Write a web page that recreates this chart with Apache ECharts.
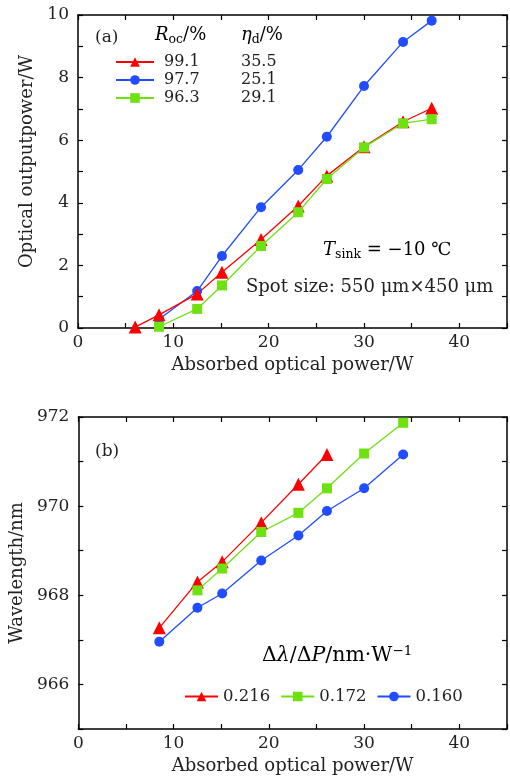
<!DOCTYPE html>
<html><head><meta charset="utf-8">
<script src="https://cdn.jsdelivr.net/npm/echarts@6/dist/echarts.min.js"></script>
<style>html,body{margin:0;padding:0;background:#fff}#c{width:510px;height:780px}</style>
</head><body><div id="c"></div>
<script>
// ---- data (a) ----
const aRedX = [6, 8.5, 12.5, 15.1, 19.2, 23.1, 26.1, 30, 34.1, 37.1];
const aRedY = [0.03, 0.42, 1.09, 1.78, 2.83, 3.90, 4.86, 5.79, 6.59, 7.02];
const aBlueX = [8.5, 12.5, 15.1, 19.2, 23.1, 26.1, 30, 34.1, 37.1];
const aBlueY = [0.28, 1.18, 2.30, 3.86, 5.05, 6.11, 7.73, 9.14, 9.82];
const aGreenX = [8.5, 12.5, 15.1, 19.2, 23.1, 26.1, 30, 34.1, 37.1];
const aGreenY = [0.04, 0.61, 1.36, 2.62, 3.70, 4.76, 5.77, 6.54, 6.67];
const aRoc = ['99.1', '97.7', '96.3'];
const aEta = ['35.5', '25.1', '29.1'];
// ---- data (b) ----
const bRedX = [8.5, 12.5, 15.1, 19.2, 23.1, 26.1];
const bRedY = [967.27, 968.30, 968.75, 969.63, 970.49, 971.16];
const bGreenX = [12.5, 15.1, 19.2, 23.1, 26.1, 30, 34.1];
const bGreenY = [968.11, 968.60, 969.42, 969.85, 970.40, 971.18, 971.87];
const bBlueX = [8.5, 12.5, 15.1, 19.2, 23.1, 26.1, 30, 34.1];
const bBlueY = [966.96, 967.72, 968.04, 968.78, 969.34, 969.89, 970.40, 971.16];
const bSlopes = ['0.216', '0.172', '0.160'];
// ---- tick labels ----
const xTickLabels = [0, 10, 20, 30, 40];
const aYTickLabels = [0, 2, 4, 6, 8, 10];
const bYTickLabels = [966, 968, 970, 972];

const RED = '#ff0000', BLUE = '#1f4dff', GREEN = '#6fe010';
const FONT = 'DejaVu Serif';
const pairs = (xs, ys) => xs.map((x, i) => [x, ys[i]]);

function xAxis(grid, name, pos) {
  const main = pos === 'bottom';
  return {
    type: 'value', gridIndex: grid, position: pos, min: 0, max: 45, interval: 5,
    name: main ? name : '', nameLocation: 'middle', nameGap: 28,
    nameTextStyle: { fontFamily: FONT, fontSize: 18, color: '#222' },
    axisLine: { show: true, onZero: false, lineStyle: { color: '#000', width: 1.5 } },
    axisTick: { show: true, inside: true, length: 5, lineStyle: { color: '#000', width: 1.2 } },
    axisLabel: { show: main, margin: 6, fontFamily: FONT, fontSize: 17, color: '#222',
      formatter: v => xTickLabels.includes(v) ? String(v) : '' },
    splitLine: { show: false }
  };
}
function yAxis(grid, name, pos, min, max, labels, shift) {
  const main = pos === 'left';
  return {
    type: 'value', gridIndex: grid, position: pos, min: min, max: max, interval: 1,
    name: main ? name : '', nameLocation: 'middle', nameGap: 36,
    nameTextStyle: { fontFamily: FONT, fontSize: 18, color: '#222', padding: [0, 0, 0, shift || 0] },
    axisLine: { show: true, onZero: false, lineStyle: { color: '#000', width: 1.5 } },
    axisTick: { show: true, inside: true, length: 5, lineStyle: { color: '#000', width: 1.2 } },
    axisLabel: { show: main, margin: 9, fontFamily: FONT, fontSize: 17, color: '#222',
      formatter: v => labels.includes(v) ? String(v) : '' },
    splitLine: { show: false }
  };
}
function line(name, xi, yi, data, color, symbol, size, z) {
  return { name: name, type: 'line', xAxisIndex: xi, yAxisIndex: yi, data: data,
    symbol: symbol, symbolSize: size, showSymbol: true, z: z || 2,
    lineStyle: { color: color, width: 1.3 }, itemStyle: { color: color }, animation: false };
}
const sub = { fontFamily: FONT, fontSize: 12.5, color: '#222', verticalAlign: 'bottom', padding: [9, 0, 0, 0] };
const norm = { fontFamily: FONT, fontSize: 18, color: '#222' };
const ital = { fontFamily: FONT, fontSize: 18, fontStyle: 'italic', color: '#222' };

const chart = echarts.init(document.getElementById('c'));
chart.setOption({
  animation: false,
  grid: [
    { left: 78, top: 15, width: 430, height: 313, show: false },
    { left: 78, top: 417, width: 430, height: 312, show: false }
  ],
  xAxis: [
    xAxis(0, 'Absorbed optical power/W', 'bottom'), xAxis(0, '', 'top'),
    xAxis(1, 'Absorbed optical power/W', 'bottom'), xAxis(1, '', 'top')
  ],
  yAxis: [
    yAxis(0, 'Optical outputpower/W', 'left', 0, 10, aYTickLabels, 20), yAxis(0, '', 'right', 0, 10, aYTickLabels),
    yAxis(1, 'Wavelength/nm', 'left', 965, 972, bYTickLabels), yAxis(1, '', 'right', 965, 972, bYTickLabels)
  ],
  legend: [
    { orient: 'vertical', left: 110, top: 49, itemGap: 2, itemWidth: 38, itemHeight: 12,
      data: ['a99', 'a97', 'a96'],
      formatter: n => { const i = ['a99', 'a97', 'a96'].indexOf(n); return '{r|' + aRoc[i] + '}{e|' + aEta[i] + '}'; },
      textStyle: { rich: { r: { fontFamily: FONT, fontSize: 16, color: '#222', width: 77, padding: [0, 0, 0, 5] }, e: { fontFamily: FONT, fontSize: 16, color: '#222' } } } },
    { orient: 'horizontal', left: 179, top: 683, itemGap: 10, itemWidth: 33, itemHeight: 12,
      data: ['b216', 'b172', 'b160'],
      formatter: n => bSlopes[['b216', 'b172', 'b160'].indexOf(n)],
      textStyle: { fontFamily: FONT, fontSize: 16.5, color: '#222' } }
  ],
  series: [
    line('a97', 0, 0, pairs(aBlueX, aBlueY), BLUE, 'circle', 10),
    line('a99', 0, 0, pairs(aRedX, aRedY), RED, 'triangle', 13),
    line('a96', 0, 0, pairs(aGreenX, aGreenY), GREEN, 'rect', 10, 3),
    line('b216', 2, 2, pairs(bRedX, bRedY), RED, 'triangle', 13),
    line('b172', 2, 2, pairs(bGreenX, bGreenY), GREEN, 'rect', 10),
    line('b160', 2, 2, pairs(bBlueX, bBlueY), BLUE, 'circle', 10)
  ],
  graphic: [
    { type: 'text', left: 95, top: 29, style: { text: '(a)', font: '17px ' + FONT, fill: '#222' } },
    { type: 'text', left: 155, top: 26, style: { text: '{i|R}{s|oc}{n|/%}', rich: { i: ital, s: sub, n: norm } } },
    { type: 'text', left: 241, top: 26, style: { text: '{i|η}{s|d}{n|/%}', rich: { i: ital, s: sub, n: norm } } },
    { type: 'text', left: 323, top: 241, style: { text: '{i|T}{s|sink}{n| = −10 ℃}', rich: { i: ital, s: sub, n: norm } } },
    { type: 'text', left: 246, top: 278, style: { text: 'Spot size: 550 μm×450 μm', font: '18px ' + FONT, fill: '#222' } },
    { type: 'text', left: 95, top: 443, style: { text: '(b)', font: '17px ' + FONT, fill: '#222' } },
    { type: 'text', left: 262, top: 644, style: { text: '{n|Δ}{i|λ}{n|/Δ}{i|P}{n|/nm·W}{p|−1}', rich: {
      i: { fontFamily: FONT, fontSize: 20.5, fontStyle: 'italic', color: '#222' },
      n: { fontFamily: FONT, fontSize: 20.5, color: '#222' },
      p: { fontFamily: FONT, fontSize: 13.5, color: '#222', verticalAlign: 'top', padding: [0, 0, 10, 0] } } } }
  ]
});
</script></body></html>
